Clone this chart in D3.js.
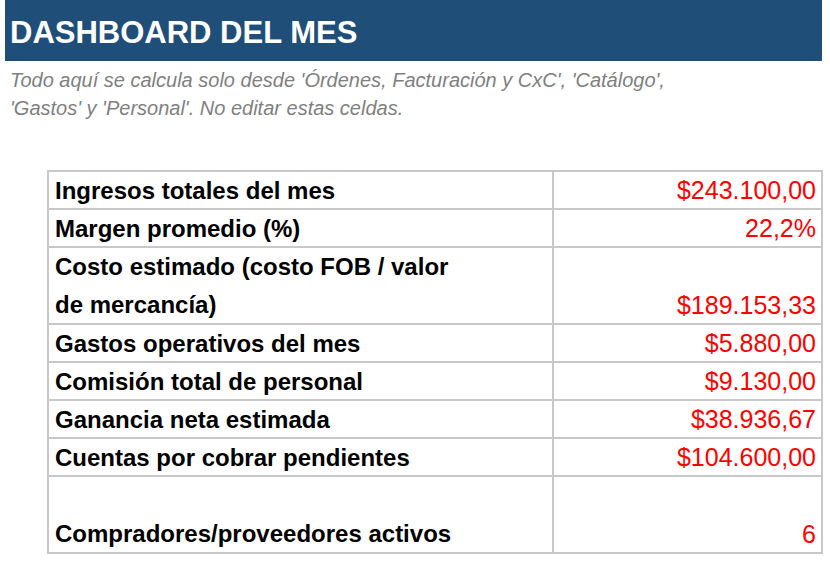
<!DOCTYPE html>
<html><head><meta charset="utf-8">
<script src="https://cdn.jsdelivr.net/npm/d3@7"></script>
<style>body{margin:0;background:#fff}</style></head>
<body><svg id="c" width="830" height="562"></svg>
<script>
const title = "DASHBOARD DEL MES";
const subtitleLines = ["Todo aquí se calcula solo desde 'Órdenes, Facturación y CxC', 'Catálogo',", "'Gastos' y 'Personal'. No editar estas celdas."];
const labels = [["Ingresos totales del mes"],["Margen promedio (%)"],["Costo estimado (costo FOB / valor","de mercancía)"],["Gastos operativos del mes"],["Comisión total de personal"],["Ganancia neta estimada"],["Cuentas por cobrar pendientes"],["","Compradores/proveedores activos"]];
const values = ["$243.100,00","22,2%","$189.153,33","$5.880,00","$9.130,00","$38.936,67","$104.600,00","6"];
const lineCounts = labels.map(l => l.length);

(function(){
const svg = d3.select("#c");
const font = "Liberation Sans, Arial, sans-serif";
svg.append("rect").attr("x",5).attr("y",0).attr("width",817).attr("height",61).attr("fill","#1f4e79");
svg.append("text").attr("x",10).attr("y",43).text(title).attr("fill","#fff").attr("font-family",font).attr("font-weight","bold").attr("font-size",31);
svg.selectAll("text.sub").data(subtitleLines).join("text").attr("class","sub")
  .attr("x",10).attr("y",(d,i)=>87+i*28).text(d=>d).attr("fill","#7f7f7f")
  .attr("font-family",font).attr("font-style","italic").attr("font-size",20);

const lineH = 38, tableTop = 171, x0 = 48, xm = 553, x1 = 822;
let ys = [tableTop]; lineCounts.forEach(n => ys.push(ys[ys.length-1] + n*lineH + (n>1?1:0)));
const g = svg.append("g");
labels.forEach((lab,i) => {
  const yt = ys[i], yb = ys[i+1];
  g.append("rect").attr("x",x0).attr("y",yt).attr("width",xm-x0).attr("height",yb-yt).attr("fill","none").attr("stroke","#c8c8c8").attr("stroke-width",2);
  g.append("rect").attr("x",xm).attr("y",yt).attr("width",x1-xm).attr("height",yb-yt).attr("fill","none").attr("stroke","#c8c8c8").attr("stroke-width",2);
  lab.forEach((t,j) => g.append("text").attr("x",x0+7).attr("y",yt+28+j*lineH).text(t)
    .attr("font-family",font).attr("font-weight","bold").attr("font-size",24).attr("fill","#000"));
  g.append("text").attr("x",x1-6).attr("y",yb-10).attr("text-anchor","end").text(values[i])
    .attr("font-family",font).attr("font-size",25).attr("fill","#ff0000");
});
})();
</script></body></html>
